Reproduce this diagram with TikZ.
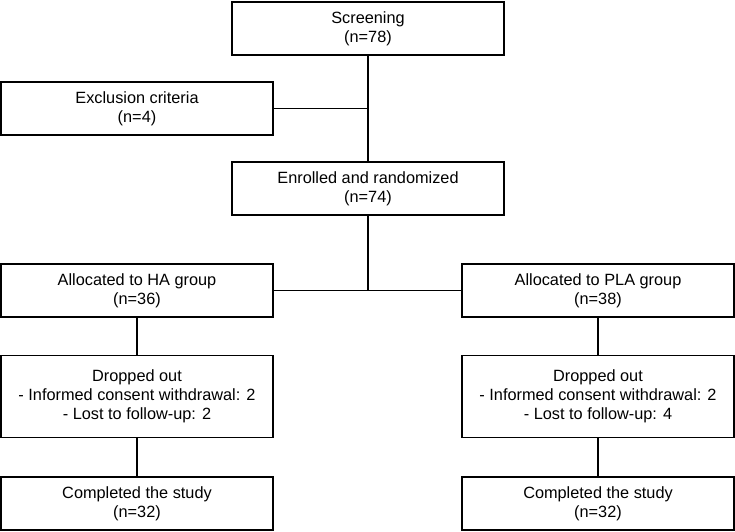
\documentclass[tikz,border=0pt]{standalone}
\usepackage{fontspec}
\setmainfont{Liberation Sans}
\begin{document}
\begin{tikzpicture}[x=1pt,y=-1pt,
  box/.style={draw=black,line width=1.2pt,fill=white,rectangle,align=center,
    minimum width=272pt,minimum height=53pt,inner sep=0pt,
    font=\fontsize{16.3pt}{19pt}\selectfont},
  tall/.style={box,minimum height=82pt},
  conn/.style={draw=black,line width=1.2pt}]
\useasboundingbox (0,0) rectangle (735,531);
\node[box] (scr) at (368,28.5) {Screening\\(n=78)};
\node[box] (exc) at (137,108.5) {Exclusion criteria\\(n=4)};
\node[box] (enr) at (368,188.5) {Enrolled and randomized\\(n=74)};
\node[box] (ha) at (137,290.5) {Allocated to HA group\\(n=36)};
\node[box] (pla) at (598,290.5) {Allocated to PLA group\\(n=38)};
\node[tall] (dha) at (137,396.5) {Dropped out\\- Informed consent withdrawal: 2\\- Lost to follow-up: 2};
\node[tall] (dpla) at (598,396.5) {Dropped out\\- Informed consent withdrawal: 2\\- Lost to follow-up: 4};
\node[box] (cha) at (137,503.5) {Completed the study\\(n=32)};
\node[box] (cpla) at (598,503.5) {Completed the study\\(n=32)};
\coordinate (j1) at (368,108.5);
\coordinate (j2) at (368,290.5);
\draw[conn] (scr.south) -- (enr.north);
\draw[conn] (exc.east) -- (j1);
\draw[conn] (enr.south) -- (j2);
\draw[conn] (ha.east) -- (pla.west);
\draw[conn] (ha.south) -- (dha.north);
\draw[conn] (dha.south) -- (cha.north);
\draw[conn] (pla.south) -- (dpla.north);
\draw[conn] (dpla.south) -- (cpla.north);
\end{tikzpicture}
\end{document}
